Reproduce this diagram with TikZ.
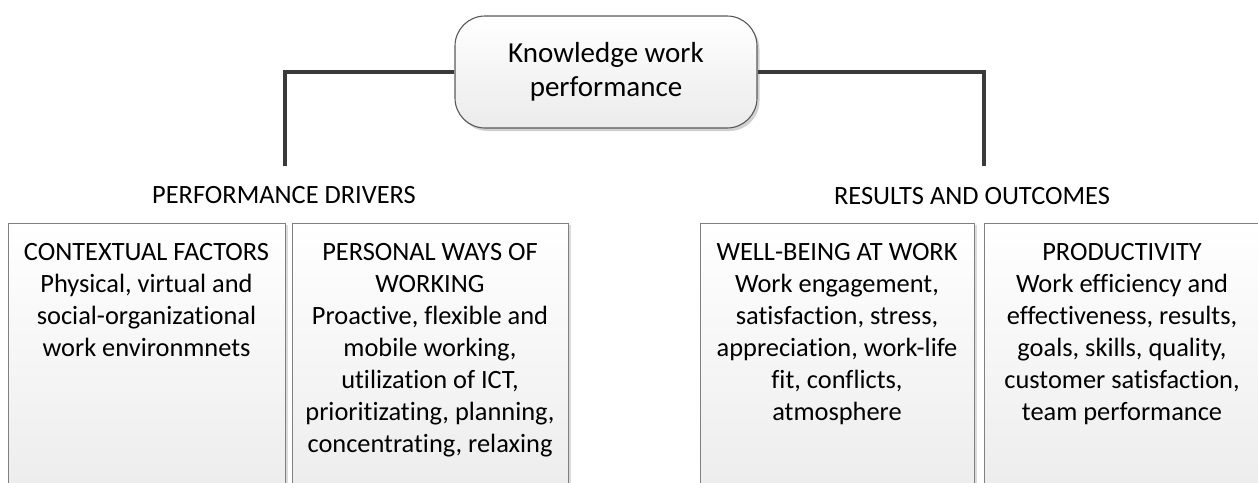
\documentclass[tikz,border=0pt]{standalone}
\usepackage{fontspec}
\setmainfont{Carlito}[Ligatures={NoCommon}]
\usetikzlibrary{shadows}
\definecolor{linec}{HTML}{3A3A3A}
\definecolor{boxborder}{HTML}{808080}
\definecolor{boxbot}{HTML}{EBEBEB}
\definecolor{topborder}{HTML}{595959}
\begin{document}
\begin{tikzpicture}[x=1pt,y=-1pt,
  connector/.style={draw=linec,line width=3.4pt},
  panel/.style={draw=boxborder,line width=1pt,top color=white,bottom color=boxbot,
    anchor=north west,minimum height=290pt,inner sep=0pt,
    drop shadow={shadow xshift=2.5pt,shadow yshift=-1pt,fill=black!14,opacity=1}},
  paneltext/.style={anchor=north,align=center,inner sep=0pt,
    font=\fontsize{26.4}{32}\selectfont},
  headtext/.style={anchor=base,inner sep=0pt,font=\fontsize{26.4}{32}\selectfont},
  topbox/.style={draw=topborder,line width=1.1pt,rounded corners=30pt,
    top color=white,bottom color=boxbot,minimum width=302pt,minimum height=112pt,
    align=center,inner sep=0pt,font=\fontsize{29}{35.4}\selectfont,
    drop shadow={shadow xshift=2.5pt,shadow yshift=-3pt,fill=black!18,opacity=1}}]
\useasboundingbox (0,0) rectangle (1258,482);
\clip (0,0) rectangle (1258,482);
% top node
\node[topbox] (kwp) at (606,72) {Knowledge work\\[-1pt]performance};
% connector ends
\coordinate (lend) at (285,166);
\coordinate (rend) at (984,166);
\draw[connector] (kwp.west) -| (lend);
\draw[connector] (kwp.east) -| (rend);
% group labels
\node[headtext] (pd) at (284,203) {PERFORMANCE DRIVERS};
\node[headtext] (ro) at (972,204) {RESULTS AND OUTCOMES};
% panels
\node[panel,minimum width=277pt] (cf) at (8,223) {};
\node[panel,minimum width=276pt] (pw) at (292,223) {};
\node[panel,minimum width=274pt] (wb) at (700,223) {};
\node[panel,minimum width=290pt] (pr) at (984,223) {};
% panel texts
\node[paneltext] (cft) at (146.5,243.3) {CONTEXTUAL FACTORS\\Physical, virtual and\\social-organizational\\work environmnets};
\node[paneltext] (pwt) at (430,243.3) {PERSONAL WAYS OF\\WORKING\\Proactive, flexible and\\mobile working,\\utilization of ICT,\\prioritizating, planning,\\concentrating, relaxing};
\node[paneltext] (wbt) at (837,243.3) {WELL-BEING AT WORK\\Work engagement,\\satisfaction, stress,\\appreciation, work-life\\fit, conflicts,\\atmosphere};
\node[paneltext] (prt) at (1122,243.3) {PRODUCTIVITY\\Work efficiency and\\effectiveness, results,\\goals, skills, quality,\\customer satisfaction,\\team performance};
\end{tikzpicture}
\end{document}
